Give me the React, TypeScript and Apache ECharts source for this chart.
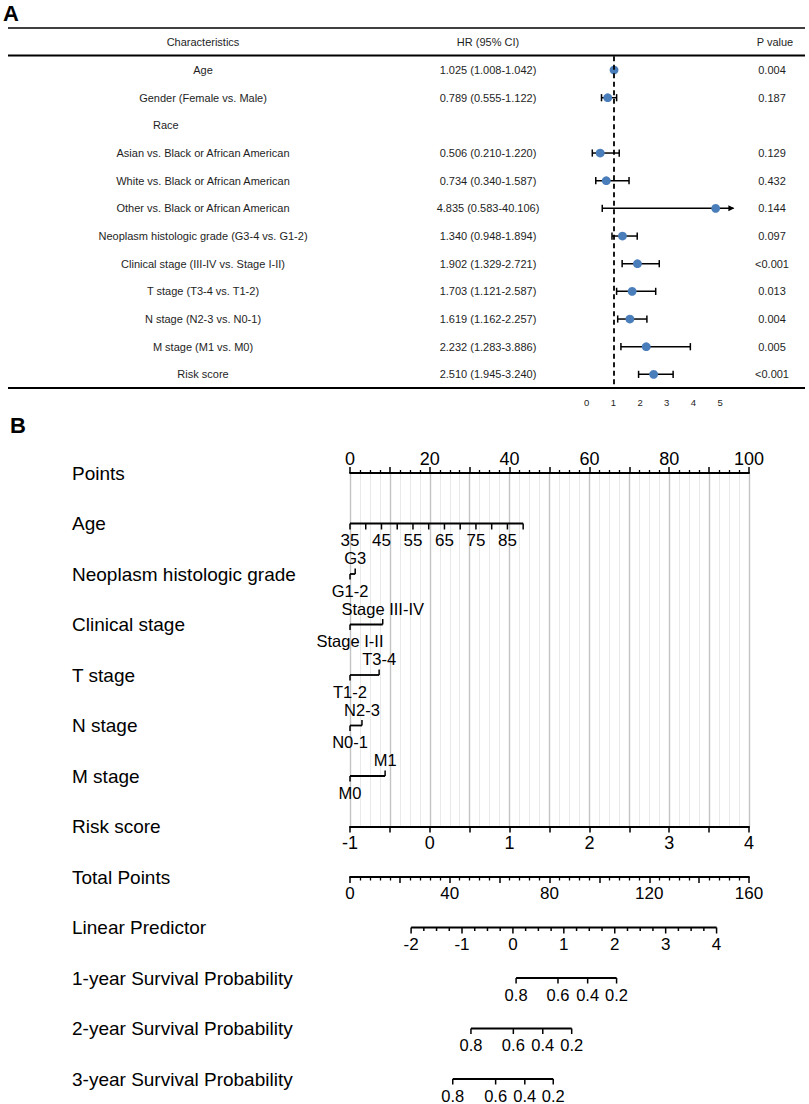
import React, { useEffect, useRef } from 'react';
import * as echarts from 'echarts';

const FONT = "'Liberation Sans', Arial, Helvetica, sans-serif";
const INK = '#000000';
const TABLE_INK = '#1e1e1e';
const DOT = '#4a7ebb';

// ---------- Panel A: multivariate Cox forest table ----------
const characteristics = [
  'Age',
  'Gender (Female vs. Male)',
  'Race',
  'Asian vs. Black or African American',
  'White vs. Black or African American',
  'Other vs. Black or African American',
  'Neoplasm histologic grade (G3-4 vs. G1-2)',
  'Clinical stage (III-IV vs. Stage I-II)',
  'T stage (T3-4 vs. T1-2)',
  'N stage (N2-3 vs. N0-1)',
  'M stage (M1 vs. M0)',
  'Risk score',
];
const hrValues = [1.025, 0.789, null, 0.506, 0.734, 4.835, 1.34, 1.902, 1.703, 1.619, 2.232, 2.51];
const ciLower = [1.008, 0.555, null, 0.21, 0.34, 0.583, 0.948, 1.329, 1.121, 1.162, 1.283, 1.945];
const ciUpper = [1.042, 1.122, null, 1.22, 1.587, 40.106, 1.894, 2.721, 2.587, 2.257, 3.886, 3.24];
const pValues = ['0.004', '0.187', '', '0.129', '0.432', '0.144', '0.097', '<0.001', '0.013', '0.004', '0.005', '<0.001'];
const subgroupHeaderRows = [2];
const forestTickLabels = [0, 1, 2, 3, 4, 5];
const forestAxisMax = 5.5;
const referenceHR = 1;

// ---------- Panel B: nomogram ----------
const nomogramRows = [
  'Points',
  'Age',
  'Neoplasm histologic grade',
  'Clinical stage',
  'T stage',
  'N stage',
  'M stage',
  'Risk score',
  'Total Points',
  'Linear Predictor',
  '1-year Survival Probability',
  '2-year Survival Probability',
  '3-year Survival Probability',
];
const pointsTickLabels = [0, 20, 40, 60, 80, 100];
const ageTicks = [35, 40, 45, 50, 55, 60, 65, 70, 75, 80, 85, 90];
const ageTickLabels = [35, 45, 55, 65, 75, 85];
const agePoints = [0, 43.4]; // points at age 35 and at age 90

const gradeLevels = ['G1-2', 'G3'];
const gradePoints = [0, 1.3];
const clinicalLevels = ['Stage I-II', 'Stage III-IV'];
const clinicalPoints = [0, 8.2];
const tStageLevels = ['T1-2', 'T3-4'];
const tStagePoints = [0, 7.3];
const nStageLevels = ['N0-1', 'N2-3'];
const nStagePoints = [0, 3.0];
const mStageLevels = ['M0', 'M1'];
const mStagePoints = [0, 8.8];

const riskScoreTickLabels = [-1, 0, 1, 2, 3, 4];
const totalPointsTickLabels = [0, 40, 80, 120, 160];

const lpTicks = [-2, -1.75, -1.5, -1.25, -1, -0.75, -0.5, -0.25, 0, 0.25, 0.5, 0.75, 1, 1.25, 1.5, 1.75, 2, 2.25, 2.5, 2.75, 3, 3.25, 3.5, 3.75, 4];
const lpTickLabels = [-2, -1, 0, 1, 2, 3, 4];
const lpTotalPoints = [24.5, 147.0]; // total points at LP = -2 and LP = 4

const survivalLabels = ['0.8', '0.6', '0.4', '0.2'];
const survival1yTotalPoints = [66.6, 83.4, 95.3, 106.9];
const survival2yTotalPoints = [48.5, 65.5, 77.3, 88.9];
const survival3yTotalPoints = [41.2, 58.4, 70.1, 81.5];

// ---------- helpers ----------
const seg = (x1: number, y1: number, x2: number, y2: number, w = 1.6) => ({
  type: 'line',
  shape: { x1, y1, x2, y2 },
  style: { stroke: INK, lineWidth: w },
});
const label = (text: string, x: number, y: number, size = 17, align = 'center') => ({
  type: 'text',
  x,
  y,
  style: {
    text,
    align,
    verticalAlign: 'middle',
    fontSize: size,
    lineHeight: size - 2,
    fontFamily: FONT,
    fill: INK,
  },
});

const categoricalVariables = [
  { row: 2, levels: gradeLevels, points: gradePoints },
  { row: 3, levels: clinicalLevels, points: clinicalPoints },
  { row: 4, levels: tStageLevels, points: tStagePoints },
  { row: 5, levels: nStageLevels, points: nStagePoints },
  { row: 6, levels: mStageLevels, points: mStagePoints },
];
const survivalRows = [
  { row: 10, tp: survival1yTotalPoints },
  { row: 11, tp: survival2yTotalPoints },
  { row: 12, tp: survival3yTotalPoints },
];

const LABEL_X = 72;
const TICK = 6;
const LABEL_OFF = 17;
const CAT_SIZE = 16.5;

export default function App() {
  const ref = useRef<HTMLDivElement>(null);

  useEffect(() => {
    document.body.style.margin = '0';
    if (!ref.current) return;
    const chart = echarts.init(ref.current, undefined, { renderer: 'svg' });

    const forestData: number[][] = [];
    hrValues.forEach((hr, i) => {
      if (hr != null) forestData.push([hr, i, ciLower[i] as number, ciUpper[i] as number]);
    });

    const forestItem = (_p: any, api: any) => {
      const hr = api.value(0);
      const row = api.value(1);
      const lo = api.value(2);
      const up = api.value(3);
      const y = api.coord([0, row])[1];
      const xl = api.coord([lo, row])[0];
      const clipped = up > forestAxisMax;
      const xu = api.coord([Math.min(up, forestAxisMax), row])[0];
      const xc = api.coord([hr, row])[0];
      const cap = 3.6;
      const children: any[] = [seg(xl, y, xu, y, 1.5), seg(xl, y - cap, xl, y + cap, 1.5)];
      if (clipped) {
        children.push({
          type: 'polygon',
          shape: { points: [[xu + 1, y], [xu - 5, y - 3], [xu - 5, y + 3]] },
          style: { fill: INK },
        });
      } else {
        children.push(seg(xu, y - cap, xu, y + cap, 1.5));
      }
      children.push({ type: 'circle', shape: { cx: xc, cy: y, r: 4.4 }, style: { fill: DOT } });
      return { type: 'group', children };
    };

    const tableItem = (_p: any, api: any) => {
      const row = api.value(1);
      const y = api.coord([0, row])[1];
      const t = (text: string, x: number, align = 'center') => ({
        type: 'text',
        x,
        y,
        style: { text, align, verticalAlign: 'middle', fontSize: 11, fontFamily: FONT, fill: TABLE_INK },
      });
      const children: any[] = [];
      if (subgroupHeaderRows.includes(row)) children.push(t(characteristics[row], 153, 'left'));
      else children.push(t(characteristics[row], 203));
      const hr = hrValues[row];
      if (hr != null) {
        children.push(
          t(`${hr.toFixed(3)} (${(ciLower[row] as number).toFixed(3)}-${(ciUpper[row] as number).toFixed(3)})`, 488)
        );
      }
      if (pValues[row]) children.push(t(pValues[row], 772));
      return { type: 'group', children };
    };

    const rowLabelItem = (_p: any, api: any) => {
      const row = api.value(1);
      const y = api.coord([0, row])[1];
      return label(nomogramRows[row], LABEL_X, y, 19, 'left');
    };

    const ageItem = (_p: any, api: any) => {
      const row = api.value(1);
      const y = api.coord([0, row])[1];
      const a0 = ageTicks[0];
      const a1 = ageTicks[ageTicks.length - 1];
      const toPts = (a: number) => agePoints[0] + ((a - a0) / (a1 - a0)) * (agePoints[1] - agePoints[0]);
      const x0 = api.coord([toPts(a0), row])[0];
      const x1 = api.coord([toPts(a1), row])[0];
      const children: any[] = [seg(x0, y, x1, y, 1.8)];
      ageTicks.forEach((a) => {
        const x = api.coord([toPts(a), row])[0];
        children.push(seg(x, y, x, y + TICK, 1.5));
        if (ageTickLabels.includes(a)) children.push(label(String(a), x, y + LABEL_OFF, 17));
      });
      return { type: 'group', children };
    };

    const categoricalItem = (_p: any, api: any) => {
      const row = api.value(1);
      const v = categoricalVariables.find((c) => c.row === row)!;
      const y = api.coord([0, row])[1];
      const xLow = api.coord([v.points[0], row])[0];
      const xHigh = api.coord([v.points[1], row])[0];
      return {
        type: 'group',
        children: [
          seg(xLow, y, xHigh, y, 1.8),
          seg(xLow, y, xLow, y + TICK - 0.5, 1.5),
          seg(xHigh, y, xHigh, y - TICK + 0.5, 1.5),
          label(v.levels[0], xLow, y + 16.5, CAT_SIZE),
          label(v.levels[1], xHigh, y - 16, CAT_SIZE),
        ],
      };
    };

    const lpItem = (_p: any, api: any) => {
      const row = api.value(1);
      const y = api.coord([0, row])[1];
      const l0 = lpTicks[0];
      const l1 = lpTicks[lpTicks.length - 1];
      const toTp = (l: number) => lpTotalPoints[0] + ((l - l0) / (l1 - l0)) * (lpTotalPoints[1] - lpTotalPoints[0]);
      const x0 = api.coord([toTp(l0), row])[0];
      const x1 = api.coord([toTp(l1), row])[0];
      const children: any[] = [seg(x0, y, x1, y, 1.8)];
      lpTicks.forEach((l) => {
        const x = api.coord([toTp(l), row])[0];
        const major = lpTickLabels.includes(l);
        children.push(seg(x, y, x, y + (major ? TICK : 3.5), 1.5));
        if (major) children.push(label(String(l), x, y + LABEL_OFF, 17));
      });
      return { type: 'group', children };
    };

    const survivalItem = (_p: any, api: any) => {
      const row = api.value(1);
      const s = survivalRows.find((r) => r.row === row)!;
      const y = api.coord([0, row])[1];
      const xs = s.tp.map((tp) => api.coord([tp, row])[0]);
      const children: any[] = [seg(xs[0], y, xs[xs.length - 1], y, 1.8)];
      xs.forEach((x, k) => {
        children.push(seg(x, y, x, y + 5.5, 1.5));
        children.push(label(survivalLabels[k], x, y + LABEL_OFF - 0.5, 16.5));
      });
      return { type: 'group', children };
    };

    const axisText = { color: INK, fontFamily: FONT, fontSize: 18, lineHeight: 16 };
    const blackLine = { lineStyle: { color: INK, width: 1.8 } };

    const option: any = {
      animation: false,
      backgroundColor: '#ffffff',
      textStyle: { fontFamily: FONT },
      grid: [
        { left: 586.7, top: 56.2, width: 146.7, height: 332 },
        { left: 350, top: 473, width: 399, height: 353.5 },
        { left: 350, top: 877, width: 399, height: 202 },
      ],
      xAxis: [
        {
          gridIndex: 0,
          type: 'value',
          min: 0,
          max: forestAxisMax,
          interval: 1,
          axisLine: { show: false },
          axisTick: { show: false },
          splitLine: { show: false },
          axisLabel: {
            color: TABLE_INK,
            fontFamily: FONT,
            fontSize: 9.5,
            margin: 9,
            formatter: (v: number) => (forestTickLabels.includes(v) ? String(v) : ''),
          },
        },
        {
          gridIndex: 1,
          type: 'value',
          position: 'top',
          min: 0,
          max: 100,
          interval: 10,
          axisLine: blackLine,
          axisTick: { length: TICK, lineStyle: { color: INK, width: 1.5 } },
          minorTick: { show: true, splitNumber: 4, length: 3, lineStyle: { color: INK, width: 1.3 } },
          splitLine: { show: true, lineStyle: { color: '#c4c4c4', width: 1.4 } },
          minorSplitLine: { show: true, lineStyle: { color: '#e9e9e9', width: 1 } },
          axisLabel: {
            ...axisText,
            margin: 6,
            formatter: (v: number) => (pointsTickLabels.includes(v) ? String(v) : ''),
          },
        },
        {
          gridIndex: 1,
          type: 'value',
          position: 'bottom',
          min: -1,
          max: 4,
          interval: 0.5,
          axisLine: blackLine,
          axisTick: { length: TICK, lineStyle: { color: INK, width: 1.5 } },
          splitLine: { show: false },
          axisLabel: {
            ...axisText,
            margin: 8,
            formatter: (v: number) => (riskScoreTickLabels.includes(v) ? String(v) : ''),
          },
        },
        {
          gridIndex: 2,
          type: 'value',
          position: 'top',
          min: 0,
          max: 160,
          interval: 20,
          axisLine: blackLine,
          axisTick: { inside: true, length: TICK, lineStyle: { color: INK, width: 1.5 } },
          minorTick: { show: true, splitNumber: 5, length: 3.5, lineStyle: { color: INK, width: 1.3 } },
          splitLine: { show: false },
          axisLabel: {
            ...axisText,
            fontSize: 17,
            inside: true,
            margin: 8,
            formatter: (v: number) => (totalPointsTickLabels.includes(v) ? String(v) : ''),
          },
        },
      ],
      yAxis: [
        {
          gridIndex: 0,
          type: 'category',
          inverse: true,
          data: characteristics,
          show: false,
          splitLine: { show: false },
        },
        { gridIndex: 1, type: 'value', min: 0, max: 7, inverse: true, show: false, splitLine: { show: false } },
        { gridIndex: 2, type: 'value', min: 8, max: 12, inverse: true, show: false, splitLine: { show: false } },
      ],
      graphic: [
        { type: 'text', x: 3, y: 2, style: { text: 'A', fontSize: 22, fontWeight: 'bold', fontFamily: FONT, fill: INK } },
        { type: 'text', x: 10, y: 414, style: { text: 'B', fontSize: 22, fontWeight: 'bold', fontFamily: FONT, fill: INK } },
        { type: 'line', shape: { x1: 8, y1: 28, x2: 805, y2: 28 }, style: { stroke: INK, lineWidth: 1.5 } },
        { type: 'line', shape: { x1: 8, y1: 55.5, x2: 805, y2: 55.5 }, style: { stroke: INK, lineWidth: 2.2 } },
        { type: 'line', shape: { x1: 8, y1: 388, x2: 805, y2: 388 }, style: { stroke: INK, lineWidth: 2 } },
        {
          type: 'text', x: 203, y: 42,
          style: { text: 'Characteristics', align: 'center', verticalAlign: 'middle', fontSize: 11, fontFamily: FONT, fill: TABLE_INK },
        },
        {
          type: 'text', x: 488, y: 42,
          style: { text: 'HR (95% CI)', align: 'center', verticalAlign: 'middle', fontSize: 11, fontFamily: FONT, fill: TABLE_INK },
        },
        {
          type: 'text', x: 775, y: 42,
          style: { text: 'P value', align: 'center', verticalAlign: 'middle', fontSize: 11, fontFamily: FONT, fill: TABLE_INK },
        },
      ],
      series: [
        {
          type: 'line',
          xAxisIndex: 0,
          yAxisIndex: 0,
          data: [],
          silent: true,
          markLine: {
            silent: true,
            symbol: 'none',
            label: { show: false },
            lineStyle: { color: INK, width: 1.8, type: [5, 3.5] },
            data: [{ xAxis: referenceHR }],
          },
        },
        {
          type: 'custom',
          xAxisIndex: 0,
          yAxisIndex: 0,
          clip: false,
          silent: true,
          renderItem: tableItem,
          data: characteristics.map((_c, i) => [0, i]),
        },
        {
          type: 'custom',
          xAxisIndex: 0,
          yAxisIndex: 0,
          clip: false,
          silent: true,
          renderItem: forestItem,
          data: forestData,
        },
        {
          type: 'custom',
          xAxisIndex: 1,
          yAxisIndex: 1,
          clip: false,
          silent: true,
          renderItem: rowLabelItem,
          data: [0, 1, 2, 3, 4, 5, 6, 7].map((r) => [0, r]),
        },
        {
          type: 'custom',
          xAxisIndex: 1,
          yAxisIndex: 1,
          clip: false,
          silent: true,
          renderItem: ageItem,
          data: [[0, 1]],
        },
        {
          type: 'custom',
          xAxisIndex: 1,
          yAxisIndex: 1,
          clip: false,
          silent: true,
          renderItem: categoricalItem,
          data: categoricalVariables.map((c) => [0, c.row]),
        },
        {
          type: 'custom',
          xAxisIndex: 3,
          yAxisIndex: 2,
          clip: false,
          silent: true,
          renderItem: rowLabelItem,
          data: [8, 9, 10, 11, 12].map((r) => [0, r]),
        },
        {
          type: 'custom',
          xAxisIndex: 3,
          yAxisIndex: 2,
          clip: false,
          silent: true,
          renderItem: lpItem,
          data: [[0, 9]],
        },
        {
          type: 'custom',
          xAxisIndex: 3,
          yAxisIndex: 2,
          clip: false,
          silent: true,
          renderItem: survivalItem,
          data: survivalRows.map((s) => [0, s.row]),
        },
      ],
    };

    chart.setOption(option);
    return () => chart.dispose();
  }, []);

  return <div ref={ref} style={{ width: 809, height: 1104 }} />;
}
